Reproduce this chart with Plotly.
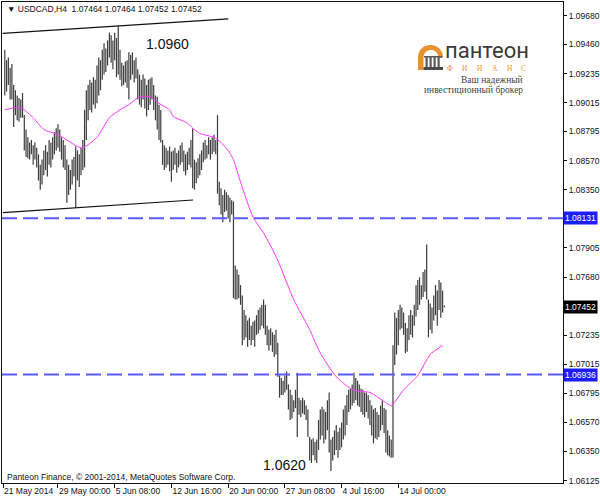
import math
import plotly.graph_objects as go

# ---------------- data ----------------
highs = [
    1.0942, 1.0934, 1.0936, 1.0928, 1.0931, 1.0915, 1.0911, 1.0907, 1.0905, 1.0904,
    1.0909, 1.0892, 1.0881, 1.0875, 1.0871, 1.0873, 1.0869, 1.0871, 1.0867, 1.0862,
    1.0854, 1.0858, 1.0865, 1.0869, 1.0864, 1.0873, 1.0871, 1.0875, 1.0879, 1.0882,
    1.0885, 1.0881, 1.0875, 1.0873, 1.0869, 1.0858, 1.0854, 1.0850, 1.0858, 1.0860,
    1.0868, 1.0865, 1.0862, 1.0867, 1.0873, 1.0896, 1.0911, 1.0915, 1.0919, 1.0917,
    1.0921, 1.0919, 1.0930, 1.0936, 1.0934, 1.0942, 1.0947, 1.0943, 1.0949, 1.0955,
    1.0953, 1.0949, 1.0955, 1.0951, 1.0960, 1.0942, 1.0932, 1.0930, 1.0933, 1.0934,
    1.0940, 1.0938, 1.0940, 1.0934, 1.0936, 1.0927, 1.0923, 1.0919, 1.0923, 1.0920,
    1.0915, 1.0919, 1.0920, 1.0921, 1.0915, 1.0907, 1.0906, 1.0900, 1.0896, 1.0873,
    1.0869, 1.0867, 1.0865, 1.0868, 1.0864, 1.0865, 1.0867, 1.0863, 1.0865, 1.0869,
    1.0871, 1.0865, 1.0862, 1.0864, 1.0867, 1.0873, 1.0882, 1.0858, 1.0856, 1.0859,
    1.0862, 1.0865, 1.0871, 1.0873, 1.0869, 1.0875, 1.0873, 1.0875, 1.0877, 1.0873,
    1.0892, 1.0841, 1.0836, 1.0831, 1.0835, 1.0833, 1.0831, 1.0829, 1.0827, 1.0826,
    1.0777, 1.0774, 1.0770, 1.0762, 1.0754, 1.0743, 1.0739, 1.0735, 1.0737, 1.0731,
    1.0734, 1.0735, 1.0739, 1.0743, 1.0745, 1.0747, 1.0751, 1.0747, 1.0731, 1.0728,
    1.0729, 1.0726, 1.0724, 1.0728, 1.0718, 1.0693, 1.0691, 1.0689, 1.0693, 1.0696,
    1.0686, 1.0682, 1.0678, 1.0674, 1.0682, 1.0695, 1.0676, 1.0674, 1.0676, 1.0674,
    1.0670, 1.0667, 1.0646, 1.0644, 1.0645, 1.0642, 1.0644, 1.0659, 1.0667, 1.0669,
    1.0667, 1.0665, 1.0674, 1.0680, 1.0644, 1.0646, 1.0651, 1.0655, 1.0650, 1.0653,
    1.0657, 1.0667, 1.0670, 1.0678, 1.0682, 1.0683, 1.0686, 1.0695, 1.0691, 1.0689,
    1.0686, 1.0683, 1.0682, 1.0680, 1.0680, 1.0678, 1.0674, 1.0670, 1.0667, 1.0668,
    1.0665, 1.0663, 1.0670, 1.0674, 1.0668, 1.0667, 1.0651, 1.0647, 1.0644, 1.0716,
    1.0741, 1.0737, 1.0743, 1.0747, 1.0745, 1.0741, 1.0733, 1.0729, 1.0739, 1.0743,
    1.0739, 1.0747, 1.0762, 1.0766, 1.0768, 1.0762, 1.0772, 1.0774, 1.0793, 1.0751,
    1.0748, 1.0745, 1.0754, 1.0762, 1.0758, 1.0766, 1.0764, 1.0758, 1.07464,
]
lows = [
    1.0907, 1.0910, 1.0915, 1.0904, 1.0904, 1.0883, 1.0892, 1.0888, 1.0887, 1.0890,
    1.0890, 1.0865, 1.0860, 1.0859, 1.0858, 1.0862, 1.0854, 1.0858, 1.0852, 1.0842,
    1.0835, 1.0839, 1.0846, 1.0850, 1.0845, 1.0854, 1.0852, 1.0858, 1.0862, 1.0865,
    1.0867, 1.0864, 1.0858, 1.0852, 1.0850, 1.0825, 1.0831, 1.0835, 1.0839, 1.0845,
    1.0821, 1.0842, 1.0837, 1.0846, 1.0850, 1.0852, 1.0873, 1.0888, 1.0896, 1.0894,
    1.0900, 1.0897, 1.0901, 1.0907, 1.0911, 1.0919, 1.0923, 1.0925, 1.0930, 1.0936,
    1.0932, 1.0927, 1.0934, 1.0921, 1.0923, 1.0919, 1.0914, 1.0915, 1.0917, 1.0913,
    1.0904, 1.0919, 1.0923, 1.0917, 1.0920, 1.0904, 1.0900, 1.0898, 1.0904, 1.0897,
    1.0891, 1.0896, 1.0900, 1.0904, 1.0896, 1.0888, 1.0881, 1.0873, 1.0871, 1.0854,
    1.0850, 1.0852, 1.0854, 1.0849, 1.0841, 1.0850, 1.0854, 1.0848, 1.0852, 1.0854,
    1.0856, 1.0849, 1.0846, 1.0850, 1.0854, 1.0852, 1.0836, 1.0835, 1.0840, 1.0844,
    1.0846, 1.0850, 1.0856, 1.0858, 1.0859, 1.0862, 1.0858, 1.0862, 1.0864, 1.0862,
    1.0832, 1.0823, 1.0816, 1.0810, 1.0818, 1.0819, 1.0813, 1.0810, 1.0816, 1.0752,
    1.0751, 1.0751, 1.0752, 1.0747, 1.0716, 1.0720, 1.0722, 1.0715, 1.0720, 1.0716,
    1.0720, 1.0715, 1.0724, 1.0725, 1.0728, 1.0731, 1.0729, 1.0724, 1.0716, 1.0712,
    1.0716, 1.0711, 1.0707, 1.0709, 1.0692, 1.0676, 1.0678, 1.0678, 1.0680, 1.0682,
    1.0667, 1.0659, 1.0660, 1.0665, 1.0668, 1.0646, 1.0663, 1.0661, 1.0664, 1.0663,
    1.0659, 1.0646, 1.0628, 1.0626, 1.0632, 1.0628, 1.0626, 1.0636, 1.0644, 1.0647,
    1.0641, 1.0644, 1.0651, 1.0634, 1.0620, 1.0628, 1.0632, 1.0636, 1.0630, 1.0636,
    1.0638, 1.0644, 1.0647, 1.0655, 1.0665, 1.0667, 1.0670, 1.0672, 1.0674, 1.0670,
    1.0669, 1.0665, 1.0663, 1.0661, 1.0665, 1.0660, 1.0655, 1.0647, 1.0641, 1.0645,
    1.0644, 1.0646, 1.0651, 1.0655, 1.0649, 1.0634, 1.0632, 1.0631, 1.0630, 1.0630,
    1.0701, 1.0709, 1.0716, 1.0728, 1.0729, 1.0724, 1.0710, 1.0711, 1.0720, 1.0724,
    1.0722, 1.0731, 1.0738, 1.0743, 1.0747, 1.0751, 1.0753, 1.0757, 1.0751, 1.0722,
    1.0728, 1.0725, 1.0735, 1.0739, 1.0731, 1.0743, 1.0737, 1.0741, 1.07452,
]

# moving average (magenta) read at these bar numbers
ma_idx = [0, 7, 10, 16, 22, 30, 35, 41, 44, 52, 59, 65, 70, 76, 82, 87, 93, 95,
          103, 106, 110, 118, 122, 126, 129, 132, 140, 146, 154, 163, 172, 178,
          187, 195, 199, 206, 213, 218, 225, 233, 240, 247]
ma_val = [1.0896, 1.0898, 1.0897, 1.0890, 1.0881, 1.0877, 1.0873, 1.0868, 1.0867,
          1.0875, 1.0890, 1.0896, 1.0900, 1.0906, 1.0906, 1.0901, 1.0896, 1.0891,
          1.0886, 1.0882, 1.0878, 1.0875, 1.0871, 1.0865, 1.0858, 1.0845, 1.0814,
          1.0802, 1.0781, 1.0751, 1.0728, 1.0710, 1.0692, 1.0683, 1.0681, 1.0680,
          1.0674, 1.0670, 1.0682, 1.0693, 1.0709, 1.0716]

level_prices = [1.08131, 1.06936]
last_price = 1.07452
title_text = "USDCAD,H4  1.07464 1.07464 1.07452 1.07452"

upper_trend_x = [-1.2, 126.1]
upper_trend_y = [1.09545, 1.09655]
lower_trend_x = [-1.0, 106.2]
lower_trend_y = [1.08174, 1.08271]

ytick_vals = [1.09680, 1.09460, 1.09235, 1.09015, 1.08795, 1.08570, 1.08350,
              1.07905, 1.07680, 1.07235, 1.07015, 1.06795, 1.06570, 1.06350, 1.06125]
xtick_idx = [-1, 30, 62, 94, 126, 158, 190, 222]
xtick_labels = ["21 May 2014", "29 May 00:00", "5 Jun 08:00", "12 Jun 16:00",
                "20 Jun 00:00", "27 Jun 08:00", "4 Jul 16:00", "14 Jul 00:00"]

high_mark, low_mark = "1.0960", "1.0620"

# ---------------- geometry helpers ----------------
W, H = 600, 500
PL, PR, PT, PB = 2, 563, 2, 483
def px(x):
    return (x - PL) / (PR - PL)
def py(y):
    return (PB - y) / (PB - PT)

FONT = "Liberation Sans, Arial, sans-serif"
SERIF = "Liberation Serif, Times New Roman, serif"

# ---------------- figure ----------------
bx, by = [], []
for i, (h, l) in enumerate(zip(highs, lows)):
    bx += [i, i, None]
    by += [l, h, None]

fig = go.Figure()
fig.add_trace(go.Scatter(x=bx, y=by, mode="lines",
                         line=dict(color="#3c3c3c", width=1.2),
                         hoverinfo="skip", showlegend=False))
fig.add_trace(go.Scatter(x=ma_idx, y=ma_val, mode="lines",
                         line=dict(color="#ff33ff", width=1, shape="spline", smoothing=0.6),
                         hoverinfo="skip", showlegend=False))
fig.add_trace(go.Scatter(x=upper_trend_x, y=upper_trend_y, mode="lines",
                         line=dict(color="#111111", width=1.2), showlegend=False))
fig.add_trace(go.Scatter(x=lower_trend_x, y=lower_trend_y, mode="lines",
                         line=dict(color="#111111", width=1.2), showlegend=False))

shapes = []
for lv in level_prices:
    shapes.append(dict(type="line", xref="paper", yref="y", x0=0, x1=1, y0=lv, y1=lv,
                       line=dict(color="#5a5aff", width=2, dash="15px,6px"), layer="above"))

# logo icon (arch with columns)
def path(points):
    return "M " + " L ".join(f"{px(a):.5f},{py(b):.5f}" for a, b in points) + " Z"
outer = []
for k in range(0, 19):
    ang = math.pi - k * math.pi / 18
    outer.append((430.5 + 12.5 * math.cos(ang), 57 - 12 * math.sin(ang)))
inner = []
for k in range(0, 19):
    ang = k * math.pi / 18
    inner.append((431 + 7.5 * math.cos(ang), 57.5 - 7.5 * math.sin(ang)))
arch = [(418, 70)] + outer + [(443, 58)] + inner + [(423.5, 70)]
shapes.append(dict(type="path", xref="paper", yref="paper", path=path(arch),
                   fillcolor="#e8922e", line=dict(width=0)))
for cx in [425.5, 429.5, 433.5, 437.5]:
    shapes.append(dict(type="rect", xref="paper", yref="paper",
                       x0=px(cx), x1=px(cx + 2.2), y0=py(67), y1=py(57),
                       fillcolor="#5a5a5a", line=dict(width=0)))
shapes.append(dict(type="rect", xref="paper", yref="paper", x0=px(423.5), x1=px(443),
                   y0=py(70), y1=py(67), fillcolor="#4a4a4a", line=dict(width=0)))
shapes.append(dict(type="rect", xref="paper", yref="paper", x0=px(424), x1=px(442),
                   y0=py(57.5), y1=py(56), fillcolor="#5a5a5a", line=dict(width=0)))

ann = []
ann.append(dict(xref="paper", yref="paper", x=px(5), y=py(9), xanchor="left", yanchor="middle",
                text="▼ " + title_text, showarrow=False,
                font=dict(family=FONT, size=8.5, color="#111111")))
ann.append(dict(xref="paper", yref="paper", x=px(5), y=py(477), xanchor="left", yanchor="middle",
                text="Panteon Finance, © 2001-2014, MetaQuotes Software Corp.", showarrow=False,
                font=dict(family=FONT, size=8.5, color="#111111")))
ann.append(dict(xref="paper", yref="paper", x=px(144), y=py(44), xanchor="left", yanchor="middle",
                text=high_mark, showarrow=False, font=dict(family=FONT, size=14, color="#111111")))
ann.append(dict(xref="paper", yref="paper", x=px(261), y=py(465), xanchor="left", yanchor="middle",
                text=low_mark, showarrow=False, font=dict(family=FONT, size=14, color="#111111")))
for lv in level_prices:
    ann.append(dict(xref="paper", yref="y", x=1, y=lv, xanchor="left", yanchor="middle",
                    text=f"{lv:.5f}", showarrow=False, bgcolor="#1c1cff", borderpad=1,
                    font=dict(family=FONT, size=8.5, color="white")))
ann.append(dict(xref="paper", yref="y", x=1, y=last_price, xanchor="left", yanchor="middle",
                text=f"{last_price:.5f}", showarrow=False, bgcolor="#000000", borderpad=1,
                font=dict(family=FONT, size=8.5, color="white")))
# logo texts
ann.append(dict(xref="paper", yref="paper", x=px(444), y=py(50), xanchor="left", yanchor="middle",
                text="пантеон", showarrow=False, borderpad=0,
                font=dict(family="Liberation Sans Narrow, Roboto, sans-serif", size=22, color="#3a3a3a")))
for cx, ch in zip([450, 465, 480, 495, 510, 523], "ФИНАНС"):
    ann.append(dict(xref="paper", yref="paper", x=px(cx), y=py(68), xanchor="center",
                    yanchor="middle", text=ch, showarrow=False, borderpad=0,
                    font=dict(family=SERIF, size=7.5, color="#e8922e")))
ann.append(dict(xref="paper", yref="paper", x=px(525), y=py(80), xanchor="right", yanchor="middle",
                text="Ваш надежный", showarrow=False, font=dict(family=SERIF, size=9.5, color="#444444")))
ann.append(dict(xref="paper", yref="paper", x=px(525), y=py(89.5), xanchor="right", yanchor="middle",
                text="инвестиционный брокер", showarrow=False,
                font=dict(family=SERIF, size=9.5, color="#444444")))

x0 = -(4.8 - PL) / 1.7725
x1 = x0 + (PR - PL) / 1.7725
slope = 0.00007645
ytop = 1.098 - PT * slope
ybot = 1.098 - PB * slope

fig.update_layout(
    width=W, height=H,
    margin=dict(l=PL, r=W - PR, t=PT, b=H - PB, autoexpand=False),
    paper_bgcolor="white", plot_bgcolor="white",
    font=dict(family=FONT, size=8.5, color="#111111"),
    showlegend=False,
    shapes=shapes, annotations=ann,
    xaxis=dict(range=[x0, x1], showgrid=False, zeroline=False, automargin=False,
               tickmode="array", tickvals=xtick_idx, ticktext=xtick_labels, tickangle=0,
               ticks="outside", ticklen=4, tickcolor="#111111", tickwidth=1,
               ticklabelposition="outside right",
               showline=True, linecolor="#111111", linewidth=1, mirror=True,
               tickfont=dict(family=FONT, size=8.5, color="#111111")),
    yaxis=dict(range=[ybot, ytop], side="right", showgrid=False, zeroline=False, automargin=False,
               tickmode="array", tickvals=ytick_vals, tickformat=".5f",
               ticks="outside", ticklen=3, tickcolor="#111111", tickwidth=1,
               showline=True, linecolor="#111111", linewidth=1, mirror=True,
               tickfont=dict(family=FONT, size=8.5, color="#111111")),
)

fig.write_html("out.html", config={"displayModeBar": False},
               post_script="document.body.style.margin='0px';document.body.style.overflow='hidden';")
